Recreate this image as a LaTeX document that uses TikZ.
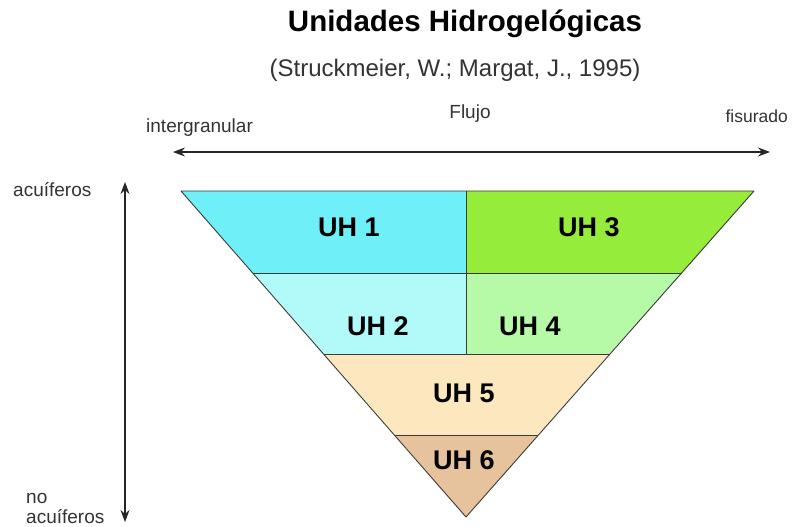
\documentclass[tikz,border=0pt]{standalone}
\usepackage{fontspec}
\setmainfont{Liberation Sans}
\usetikzlibrary{arrows.meta}
\definecolor{cuh1}{HTML}{6FF0F8}
\definecolor{cuh2}{HTML}{B2FAFA}
\definecolor{cuh3}{HTML}{95EC3A}
\definecolor{cuh4}{HTML}{B6FAA8}
\definecolor{cuh5}{HTML}{FDE7BF}
\definecolor{cuh6}{HTML}{E6C39C}
\definecolor{edge}{HTML}{3A3A3A}
\tikzset{
  band/.style={draw=edge, line width=0.9pt, line join=round},
  uhlabel/.style={inner sep=0pt, font=\fontsize{27}{30}\selectfont\bfseries},
  smalltxt/.style={inner sep=0pt, anchor=base, font=\fontsize{19}{20}\selectfont, text=black!80},
  axis/.style={draw=black!85, line width=1.3pt, {Stealth[length=12pt,width=9pt]}-{Stealth[length=12pt,width=9pt]}},
}
\begin{document}
\begin{tikzpicture}[x=1pt,y=-1pt]
\useasboundingbox (0,0) rectangle (801,527);
% corner points
\coordinate (tl) at (181,191);
\coordinate (tr) at (754,191);
\coordinate (tm) at (466,191);
\coordinate (ap) at (466,517);
\coordinate (l1) at (253,273);
\coordinate (r1) at (682,273);
\coordinate (m1) at (466,273);
\coordinate (l2) at (324,354);
\coordinate (r2) at (609,354);
\coordinate (m2) at (466,354);
\coordinate (l3) at (395,435);
\coordinate (r3) at (538,435);
% bands
\fill[cuh1] (tl) -- (tm) -- (m1) -- (l1) -- cycle;
\fill[cuh3] (tm) -- (tr) -- (r1) -- (m1) -- cycle;
\fill[cuh2] (l1) -- (m1) -- (m2) -- (l2) -- cycle;
\fill[cuh4] (m1) -- (r1) -- (r2) -- (m2) -- cycle;
\fill[cuh5] (l2) -- (r2) -- (r3) -- (l3) -- cycle;
\fill[cuh6] (l3) -- (r3) -- (ap) -- cycle;
\draw[band] (tl) -- (tr) -- (ap) -- cycle;
\draw[band] (l1) -- (r1);
\draw[band] (l2) -- (r2);
\draw[band] (l3) -- (r3);
\draw[band] (tm) -- (m2);
% labels
\node[uhlabel] (uh1) at (349,227) {UH 1};
\node[uhlabel] (uh3) at (589,227) {UH 3};
\node[uhlabel] (uh2) at (378,326) {UH 2};
\node[uhlabel] (uh4) at (530,326) {UH 4};
\node[uhlabel] (uh5) at (464,393) {UH 5};
\node[uhlabel] (uh6) at (464,460) {UH 6};
% titles
\node[inner sep=0pt, anchor=base, font=\fontsize{29.5}{32}\selectfont\bfseries] (title) at (465,32) {Unidades Hidrogelógicas};
\node[inner sep=0pt, anchor=base, font=\fontsize{24}{26}\selectfont, text=black!80] (sub) at (455,77) {(Struckmeier, W.; Margat, J., 1995)};
\node[smalltxt] (flujo) at (470,118) {Flujo};
\node[smalltxt, anchor=base west] (inter) at (146,132) {intergranular};
\node[smalltxt, anchor=base east, font=\fontsize{17.5}{20}\selectfont] (fis) at (788,122) {fisurado};
\node[smalltxt, anchor=base west] (acu) at (13,196) {acuíferos};
\node[smalltxt, anchor=base west, align=left, font=\fontsize{19}{20}\selectfont] (noacu) at (26,523) {no\\acuíferos};
% axes
\coordinate (hl) at (173,152);
\coordinate (hr) at (770,152);
\coordinate (vt) at (125,182);
\coordinate (vb) at (125,522);
\draw[axis] (hl) -- (hr);
\draw[axis] (vb) -- (vt);
\end{tikzpicture}
\end{document}
